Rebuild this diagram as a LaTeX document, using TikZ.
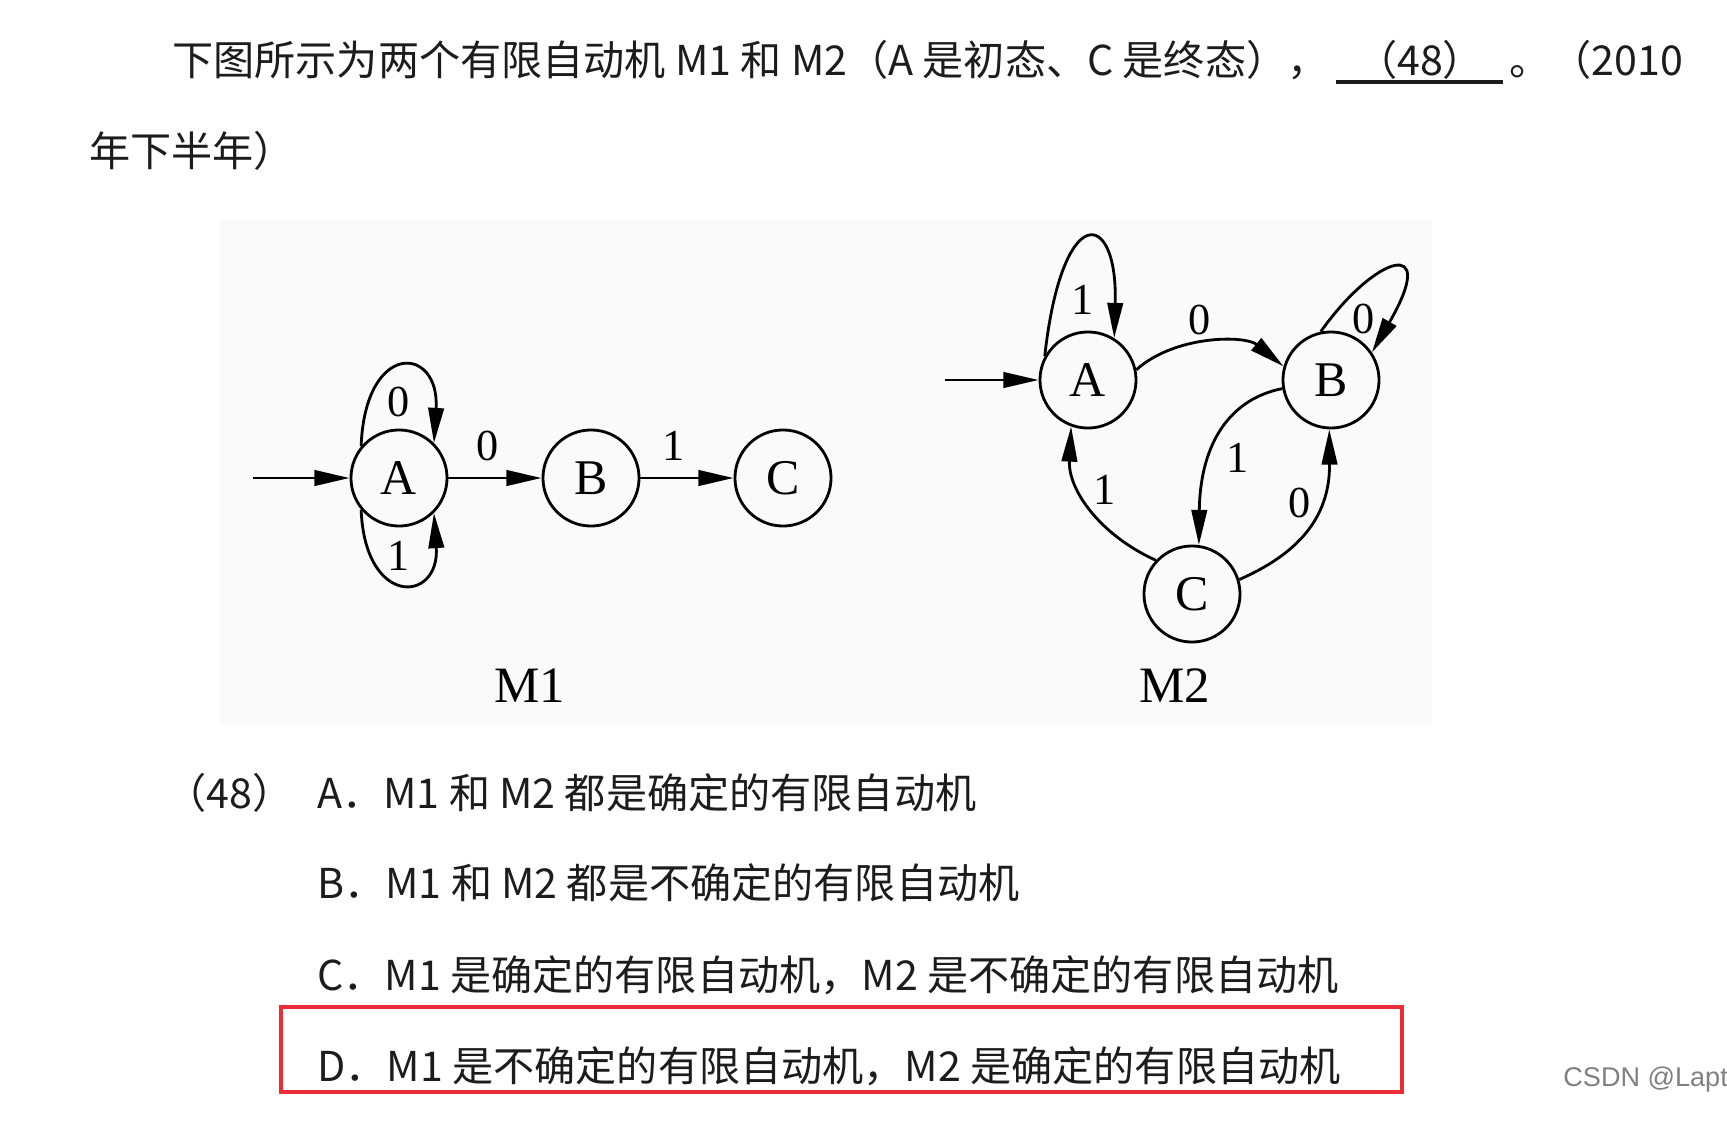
\documentclass[tikz,border=0pt]{standalone}
\usepackage{fontspec}
\usepackage{xcolor}
\usepackage{tikz}
\usetikzlibrary{arrows.meta}
\newfontfamily\cjk{Noto Sans CJK SC}
\newfontfamily\tms{Liberation Serif}
\newfontfamily\wmfont{Liberation Sans}
\definecolor{boxred}{RGB}{236,45,55}
\definecolor{ink}{RGB}{28,28,28}

\begin{document}
\begin{tikzpicture}[
    x=0.01cm, y=-0.01cm,
    state/.style={draw, circle, minimum size=0.96cm, inner sep=0pt, line width=0.8pt,
        font=\tms\fontsize{14.2pt}{16pt}\selectfont},
    edge_label/.style={font=\tms\fontsize{12.6pt}{14pt}\selectfont, inner sep=0pt},
    txt/.style={font=\cjk\fontsize{11.7pt}{14pt}\selectfont, text=ink, inner sep=0pt, anchor=west},
    >={Triangle[length=10pt, width=4.4pt]},
    every path/.append style={line width=0.8pt},
]
    \useasboundingbox (0,0) rectangle (1727,1127);
    \fill[black!2] (220,220) rectangle (1432,725);

    % question text
    \node[txt] (head) at (171,60) {下图所示为两个有限自动机 M1 和 M2（A 是初态、C 是终态），};
    \node[txt, anchor=center] (blank) at (1420,60) {（48）};
    \coordinate (blankl) at (1336,82);
    \coordinate (blankr) at (1503,82);
    \draw[line width=1.1pt, ink] (blankl) -- (blankr);
    \node[txt] (year) at (1508,60) {。（2010};
    \node[txt] (year2) at (88,151) {年下半年）};

    % M1
    \node[state] (m1a) at (399,478) {A};
    \node[state] (m1b) at (591,478) {B};
    \node[state] (m1c) at (783,478) {C};
    \coordinate (m1in) at (253,478);
    \draw[->] (m1in) -- (m1a);
    \draw[->] (m1a) -- (m1b);
    \draw[->] (m1b) -- (m1c);
    \draw[->] (m1a.140) .. controls (365,340) and (440,345) .. (m1a.45);
    \draw[->] (m1a.-140) .. controls (365,608) and (440,603) .. (m1a.-45);
    \node[edge_label] (m1l1) at (399,402) {0};
    \node[edge_label] (m1l2) at (399,556) {1};
    \node[edge_label] (m1l3) at (488,446) {0};
    \node[edge_label] (m1l4) at (674,446) {1};
    \node[font=\tms\fontsize{14.5pt}{16pt}\selectfont] (m1name) at (530,686) {M1};

    % M2
    \node[state] (m2a) at (1088,380) {A};
    \node[state] (m2b) at (1331,380) {B};
    \node[state] (m2c) at (1192,594) {C};
    \coordinate (m2in) at (945,380);
    \draw[->] (m2in) -- (m2a);
    \draw[->] (m2a.151) .. controls (1062,200) and (1118,208) .. (m2a.58);
    \draw[->] (m2b.102) .. controls (1375,255) and (1440,235) .. (m2b.34);
    \draw[->] (m2a.12) .. controls (1175,335) and (1245,335) .. (m2b.164);
    \draw[->] (m2b.190) .. controls (1225,400) and (1200,450) .. (m2c.82);
    \draw[->] (m2c.17) .. controls (1295,555) and (1330,520) .. (m2b.-92);
    \draw[->] (m2c.137) .. controls (1100,535) and (1068,490) .. (m2a.-110);
    \node[edge_label] (m2l1) at (1083,300) {1};
    \node[edge_label] (m2l2) at (1364,319) {0};
    \node[edge_label] (m2l3) at (1200,320) {0};
    \node[edge_label] (m2l4) at (1238,458) {1};
    \node[edge_label] (m2l5) at (1300,503) {0};
    \node[edge_label] (m2l6) at (1105,490) {1};
    \node[font=\tms\fontsize{14.5pt}{16pt}\selectfont] (m2name) at (1175,686) {M2};

    % options
    \node[txt] (qnum) at (164,793) {（48）};
    \node[txt] (optA) at (316,793) {A．M1 和 M2 都是确定的有限自动机};
    \node[txt] (optB) at (316,883) {B．M1 和 M2 都是不确定的有限自动机};
    \node[txt] (optC) at (316,975) {C．M1 是确定的有限自动机，M2 是不确定的有限自动机};
    \node[txt] (optD) at (316,1066) {D．M1 是不确定的有限自动机，M2 是确定的有限自动机};
    \draw[boxred, line width=1pt] (281,1007) rectangle (1402,1092);

    \node[anchor=west, inner sep=0pt, text=black!50, font=\wmfont\fontsize{7.7pt}{9pt}\selectfont] (mark) at (1562,1079) {CSDN @Lapt};
\end{tikzpicture}
\end{document}
